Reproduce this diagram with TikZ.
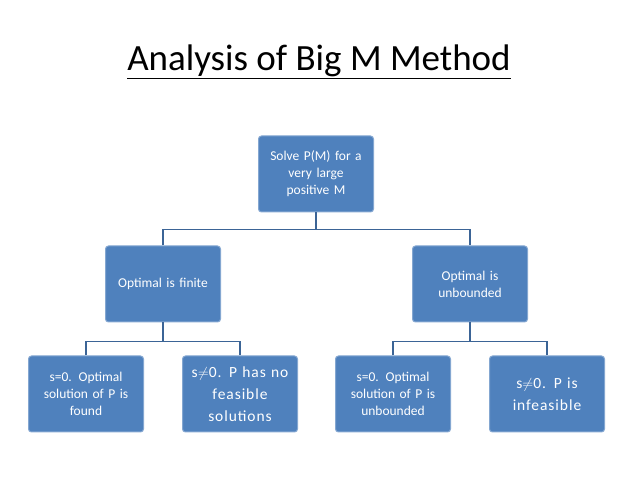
\documentclass[tikz,border=0pt]{standalone}
\usepackage{fontspec}
\setmainfont{Carlito}
\begin{document}
\begin{tikzpicture}
[ x=1pt, y=-1pt
, box/.style={rectangle, rounded corners=3pt, fill=boxblue, draw=boxblue!70!white, line width=1pt, minimum width=115pt, minimum height=76pt, text width=108pt, align=center, text=white, font=\fontsize{13.5}{17}\selectfont}
, bigbox/.style={box, font=\fontsize{15.5}{22}\selectfont\addfontfeatures{LetterSpace=6}}
, link/.style={draw=linkblue, line width=1.6pt}
]
\definecolor{boxblue}{HTML}{4F81BD}
\definecolor{linkblue}{HTML}{3B6496}
\useasboundingbox (0,0) rectangle (638,478);
\node (title) at (319,62) {\fontsize{37}{42}\selectfont\underline{Analysis of Big M Method}};
% boxes
\node (solve) [box] at (316,174) {Solve P(M) for a\\ very large\\ positive M};
\node (finite) [box] at (163,284) {Optimal is finite};
\node (unbd) [box] at (470,284) {Optimal is\\ unbounded};
\node (found) [box] at (86,394) {s=0. Optimal\\ solution of P is\\ found};
\node (nofeas) [bigbox] at (240,394) {s$\neq$0. P has no\\ feasible\\ solutions};
\node (solunb) [box] at (393,394) {s=0. Optimal\\ solution of P is\\ unbounded};
\node (infeas) [bigbox] at (547,394) {s$\neq$0. P is\\ infeasible};
% connectors
\draw [link] (solve.south) -- ++(0,17) coordinate (t1);
\draw [link] (finite.north) |- (t1) -| (unbd.north);
\draw [link] (finite.south) -- ++(0,19) coordinate (t2);
\draw [link] (found.north) |- (t2) -| (nofeas.north);
\draw [link] (unbd.south) -- ++(0,19) coordinate (t3);
\draw [link] (solunb.north) |- (t3) -| (infeas.north);
\end{tikzpicture}
\end{document}
